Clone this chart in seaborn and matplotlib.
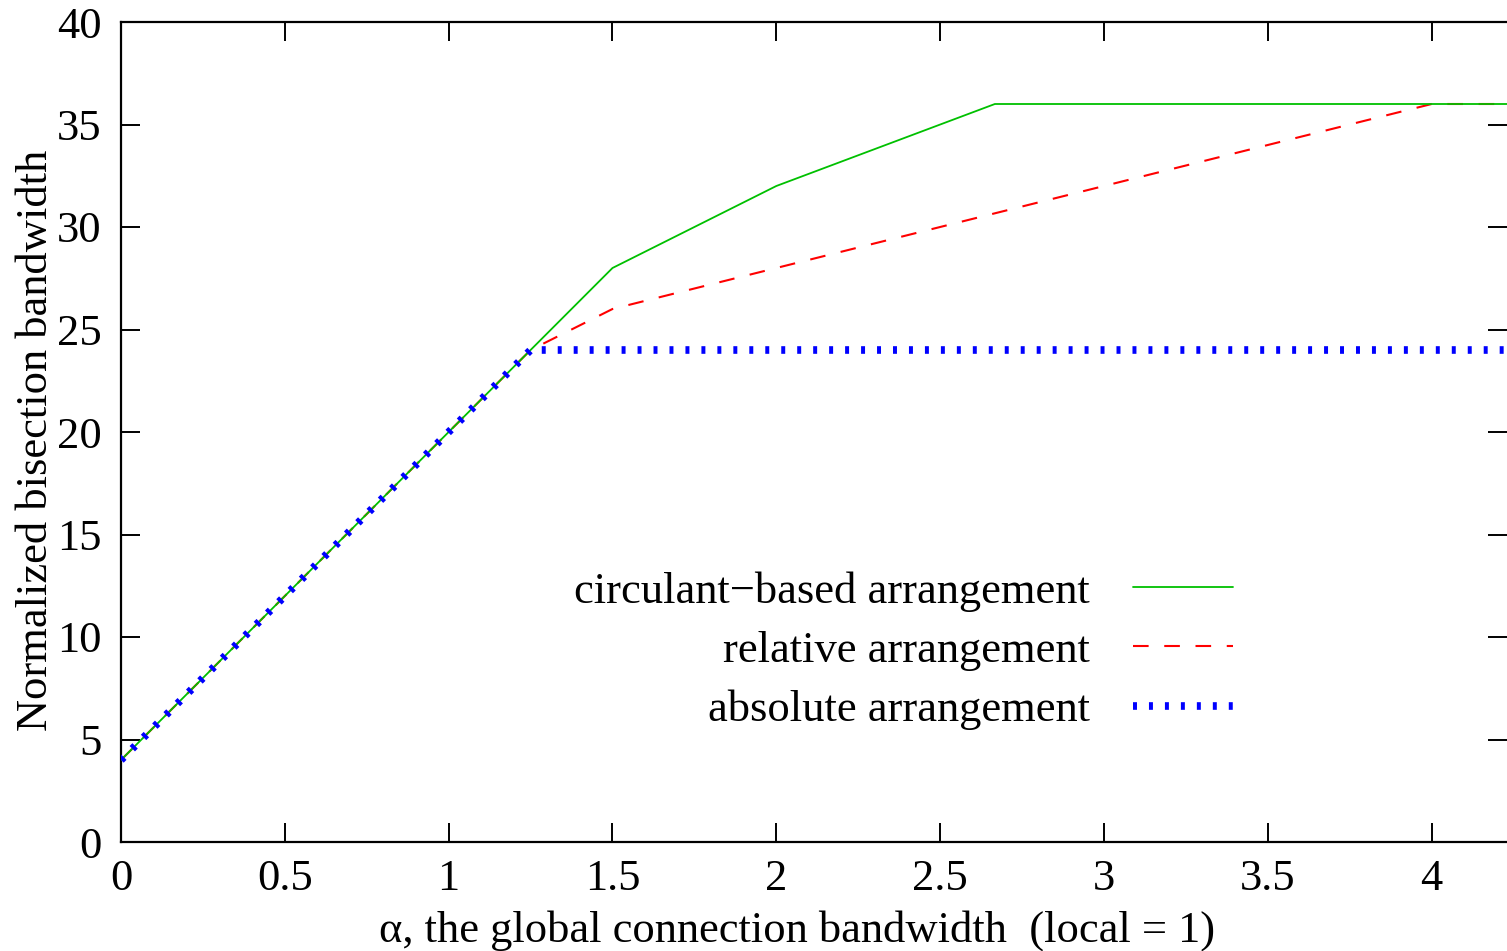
import matplotlib
matplotlib.use("Agg")
import matplotlib.pyplot as plt
import seaborn as sns
import pandas as pd

# values
x_circulant = [0, 1.25, 1.5, 2, 2.667, 4.23]
y_circulant = [4, 24, 28, 32, 36, 36]
x_relative = [0, 1.25, 1.5, 4, 4.23]
y_relative = [4, 24, 26, 36, 36]
x_absolute = [0, 1.25, 4.23]
y_absolute = [4, 24, 24]

x_ticks = [0, 0.5, 1, 1.5, 2, 2.5, 3, 3.5, 4]
x_tick_labels = ["0", "0.5", "1", "1.5", "2", "2.5", "3", "3.5", "4"]
y_ticks = [0, 5, 10, 15, 20, 25, 30, 35, 40]

sns.set_theme(style="ticks")
plt.rcParams['font.family'] = ['Liberation Serif', 'DejaVu Serif']
plt.rcParams['font.size'] = 32
plt.rcParams['text.color'] = 'black'
plt.rcParams['axes.labelcolor'] = 'black'

fig = plt.figure(figsize=(15.07, 9.51), dpi=100)
ax = fig.add_axes([121 / 1507, 1 - 842 / 951, 1 - 121 / 1507, (842 - 22) / 951])

circ = pd.DataFrame({'x': x_circulant, 'y': y_circulant})
rel = pd.DataFrame({'x': x_relative, 'y': y_relative})
absl = pd.DataFrame({'x': x_absolute, 'y': y_absolute})

sns.lineplot(data=circ, x='x', y='y', ax=ax, color='#00c000', linewidth=1.3,
             label='circulant\u2212based arrangement', sort=False, zorder=3)
sns.lineplot(data=rel, x='x', y='y', ax=ax, color='#ff0000', linewidth=1.5,
             label='relative arrangement', sort=False, zorder=2)
sns.lineplot(data=absl, x='x', y='y', ax=ax, color='#0000ff', linewidth=5.5,
             label='absolute arrangement', sort=False, zorder=4)

lines = ax.get_lines()
lines[1].set_dashes((7.5, 7.5))
lines[2].set_dashes((0.52, 1.57))
lines[2].set_dash_capstyle('butt')

ax.set_xlim(0, 4.23)
ax.set_ylim(0, 40)
ax.set_xticks(x_ticks)
ax.set_xticklabels(x_tick_labels)
ax.set_yticks(y_ticks)
ax.tick_params(direction='in', length=14, width=1.4, top=True, right=True,
               labelsize=32, colors='black')
ax.tick_params(axis='x', pad=12)
ax.tick_params(axis='y', pad=14)
for side in ['left', 'bottom', 'top']:
    ax.spines[side].set_linewidth(1.6)
    ax.spines[side].set_color('black')
ax.spines['right'].set_visible(False)

ax.set_xlabel('\u03b1, the global connection bandwidth  (local = 1)', fontsize=32)
ax.xaxis.set_label_coords(0.488, -0.083)
ax.set_ylabel('Normalized bisection bandwidth', fontsize=32)
ax.yaxis.set_label_coords(-0.047, 0.49)

leg = ax.legend(loc='upper right', bbox_to_anchor=(1233 / 1507, 1 - 571 / 951),
                bbox_transform=fig.transFigure, frameon=False, markerfirst=False,
                handlelength=2.25, handletextpad=0.97, labelspacing=0.43,
                borderpad=0, borderaxespad=0, fontsize=32)

fig.savefig('out.png', dpi=100)
